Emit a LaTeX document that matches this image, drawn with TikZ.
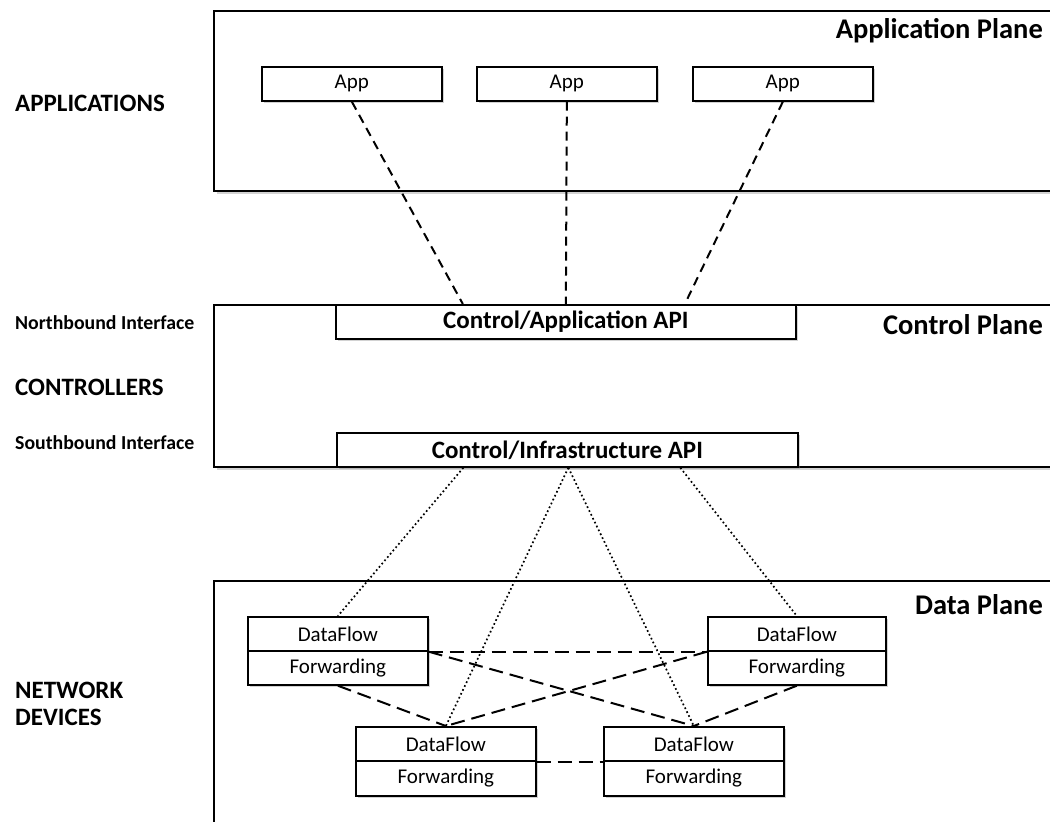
\documentclass[tikz,border=0pt]{standalone}
\usepackage{fontspec}
\setmainfont{Carlito}
\usetikzlibrary{shadows,calc}
\begin{document}
\begin{tikzpicture}[x=1pt,y=-1pt,
  shad/.style={drop shadow={shadow xshift=2.5pt,shadow yshift=-2.5pt,opacity=.35,fill=gray}},
  plane/.style={draw,line width=2pt,fill=white,shad,anchor=north west,inner sep=0pt},
  box/.style={draw,line width=1.7pt,fill=white,shad,anchor=north west,inner sep=0pt},
  planelabel/.style={anchor=east,font=\fontsize{28.5}{34}\selectfont\bfseries,inner sep=0pt},
  biglabel/.style={anchor=west,font=\fontsize{25}{28}\selectfont\bfseries,inner sep=0pt,align=left},
  smalllabel/.style={anchor=west,font=\fontsize{19.8}{24}\selectfont\bfseries,inner sep=0pt},
  boxtext/.style={font=\fontsize{21}{24}\selectfont},
  apitext/.style={font=\fontsize{25}{30}\selectfont\bfseries},
  appline/.style={line width=2pt,dash pattern=on 9pt off 6pt},
  devline/.style={line width=2pt,dash pattern=on 14pt off 7pt},
  ctlline/.style={line width=1.7pt,dash pattern=on 1.7pt off 2.6pt}
]
\useasboundingbox (0,0) rectangle (1050,822);
\clip (0,0) rectangle (1050,822);
% planes
\node[plane,minimum width=860pt,minimum height=180pt] (appplane) at (213,10) {};
\node[plane,minimum width=860pt,minimum height=162pt] (ctlplane) at (213,304) {};
\node[plane,minimum width=860pt,minimum height=260pt] (dataplane) at (213,580) {};
\node[planelabel] (apl) at (1043,31) {Application Plane};
\node[planelabel] (cpl) at (1043,325) {Control Plane};
\node[planelabel] (dpl) at (1043,605) {Data Plane};
% left labels
\node[biglabel] (lapps) at (15,103) {APPLICATIONS};
\node[smalllabel] (lnb) at (15,323) {Northbound Interface};
\node[biglabel] (lctl) at (15,387) {CONTROLLERS};
\node[smalllabel] (lsb) at (15,443) {Southbound Interface};
\node[biglabel] (lnd) at (15,704) {NETWORK\\[-1pt]DEVICES};
% apps
\node[box,minimum width=180pt,minimum height=34pt,boxtext] (app1) at (261,66) {App};
\node[box,minimum width=180pt,minimum height=34pt,boxtext] (app2) at (476,66) {App};
\node[box,minimum width=180pt,minimum height=34pt,boxtext] (app3) at (692,66) {App};
% APIs
\node[box,minimum width=460pt,minimum height=34pt,apitext] (caapi) at (335,304) {Control/Application API};
\node[box,minimum width=461pt,minimum height=34pt,apitext] (ciapi) at (336,432) {Control/Infrastructure API};
% devices
\node[box,minimum width=180pt,minimum height=34pt,boxtext] (df1) at (247,616) {DataFlow};
\node[box,minimum width=180pt,minimum height=34pt,boxtext] (fw1) at (247,650) {Forwarding};
\node[box,minimum width=178pt,minimum height=34pt,boxtext] (df2) at (707,616) {DataFlow};
\node[box,minimum width=178pt,minimum height=34pt,boxtext] (fw2) at (707,650) {Forwarding};
\node[box,minimum width=180pt,minimum height=34pt,boxtext] (df3) at (355,726) {DataFlow};
\node[box,minimum width=180pt,minimum height=35pt,boxtext] (fw3) at (355,760) {Forwarding};
\node[box,minimum width=180pt,minimum height=34pt,boxtext] (df4) at (603,726) {DataFlow};
\node[box,minimum width=180pt,minimum height=35pt,boxtext] (fw4) at (603,760) {Forwarding};
% app connectors
\draw[appline] (app1.south) -- ([xshift=-103pt]caapi.north);
\draw[appline] (app2.south) -- (caapi.north);
\draw[appline] (app3.south) -- ([xshift=119pt]caapi.north);
% control to devices
\draw[ctlline] ([xshift=-104pt]ciapi.south) -- (df1.north);
\draw[ctlline] ([xshift=1pt]ciapi.south) -- (df3.north);
\draw[ctlline] ([xshift=1pt]ciapi.south) -- (df4.north);
\draw[ctlline] ([xshift=113pt]ciapi.south) -- (df2.north);
% device links
\draw[devline] (df1.south east) -- (df2.south west);
\draw[devline] (df1.south east) -- (df4.north);
\draw[devline] (df2.south west) -- (df3.north);
\draw[devline] (fw1.south) -- (df3.north);
\draw[devline] (fw2.south) -- (df4.north);
\draw[devline] (df3.south east) -- (df4.south west);
\end{tikzpicture}
\end{document}
